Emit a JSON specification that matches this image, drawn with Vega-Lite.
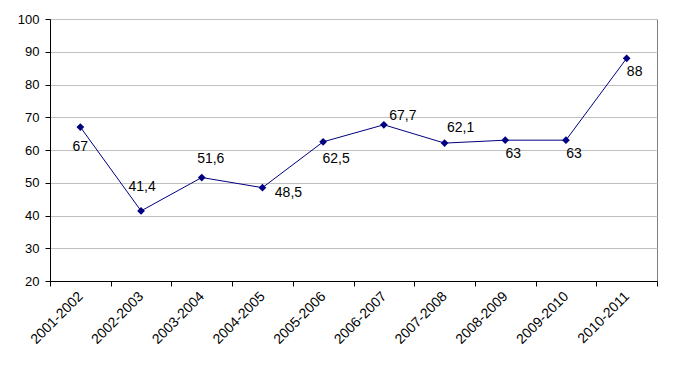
{
  "$schema": "https://vega.github.io/schema/vega-lite/v6.json",
  "width": 607,
  "height": 262,
  "autosize": "none",
  "padding": {"left": 50, "top": 19, "right": 16, "bottom": 93},
  "background": "white",
  "config": {
    "font": "Liberation Sans",
    "view": {"stroke": "#808080", "strokeWidth": 1},
    "locale": {"number": {"decimal": ",", "thousands": " ", "grouping": [3], "currency": ["", ""]}},
    "axis": {"labelFont": "Liberation Sans", "labelFontSize": 13, "labelColor": "#000000", "domainColor": "#000000", "tickColor": "#000000", "titleFontSize": 12}
  },
  "data": {"values": [
    {"period": "2001-2002", "value": 67},
    {"period": "2002-2003", "value": 41.4},
    {"period": "2003-2004", "value": 51.6},
    {"period": "2004-2005", "value": 48.5},
    {"period": "2005-2006", "value": 62.5},
    {"period": "2006-2007", "value": 67.7},
    {"period": "2007-2008", "value": 62.1},
    {"period": "2008-2009", "value": 63},
    {"period": "2009-2010", "value": 63},
    {"period": "2010-2011", "value": 88}
  ]},
  "encoding": {
    "x": {"field": "period", "type": "ordinal", "sort": null,
      "scale": {"paddingInner": 0, "paddingOuter": 0},
      "axis": {"title": null, "labelAngle": -45, "labelAlign": "right", "labelBaseline": "middle", "tickBand": "extent", "tickSize": 5, "labelPadding": 8, "labelFontSize": 14, "grid": false, "domainColor": "#000000"}},
    "y": {"field": "value", "type": "quantitative",
      "scale": {"domain": [20, 100], "nice": false, "zero": false},
      "axis": {"title": null, "values": [20, 30, 40, 50, 60, 70, 80, 90, 100], "grid": true, "gridColor": "#c0c0c0", "gridWidth": 1, "tickSize": 5, "labelPadding": 6}}
  },
  "layer": [
    {"mark": {"type": "line", "color": "#000080", "strokeWidth": 1}},
    {"mark": {"type": "point", "shape": "diamond", "filled": true, "color": "#000080", "size": 60, "opacity": 1}},
    {"transform": [{"filter": {"field": "period", "oneOf": ["2001-2002"]}}],
      "mark": {"type": "text", "fontSize": 14, "color": "#000000", "dx": 0, "dy": 20},
      "encoding": {"text": {"field": "value", "type": "quantitative", "format": ".1~f"}}},
    {"transform": [{"filter": {"field": "period", "oneOf": ["2002-2003"]}}],
      "mark": {"type": "text", "fontSize": 14, "color": "#000000", "dx": 1, "dy": -24},
      "encoding": {"text": {"field": "value", "type": "quantitative", "format": ".1~f"}}},
    {"transform": [{"filter": {"field": "period", "oneOf": ["2003-2004"]}}],
      "mark": {"type": "text", "fontSize": 14, "color": "#000000", "dx": 9, "dy": -19},
      "encoding": {"text": {"field": "value", "type": "quantitative", "format": ".1~f"}}},
    {"transform": [{"filter": {"field": "period", "oneOf": ["2007-2008"]}}],
      "mark": {"type": "text", "fontSize": 14, "color": "#000000", "dx": 16, "dy": -15},
      "encoding": {"text": {"field": "value", "type": "quantitative", "format": ".1~f"}}},
    {"transform": [{"filter": {"field": "period", "oneOf": ["2004-2005"]}}],
      "mark": {"type": "text", "fontSize": 14, "color": "#000000", "dx": 26, "dy": 5},
      "encoding": {"text": {"field": "value", "type": "quantitative", "format": ".1~f"}}},
    {"transform": [{"filter": {"field": "period", "oneOf": ["2006-2007"]}}],
      "mark": {"type": "text", "fontSize": 14, "color": "#000000", "dx": 19, "dy": -9},
      "encoding": {"text": {"field": "value", "type": "quantitative", "format": ".1~f"}}},
    {"transform": [{"filter": {"field": "period", "oneOf": ["2005-2006"]}}],
      "mark": {"type": "text", "fontSize": 14, "color": "#000000", "dx": 13, "dy": 17},
      "encoding": {"text": {"field": "value", "type": "quantitative", "format": ".1~f"}}},
    {"transform": [{"filter": {"field": "period", "oneOf": ["2008-2009", "2009-2010", "2010-2011"]}}],
      "mark": {"type": "text", "fontSize": 14, "color": "#000000", "dx": 8, "dy": 14},
      "encoding": {"text": {"field": "value", "type": "quantitative", "format": ".1~f"}}}
  ]
}
